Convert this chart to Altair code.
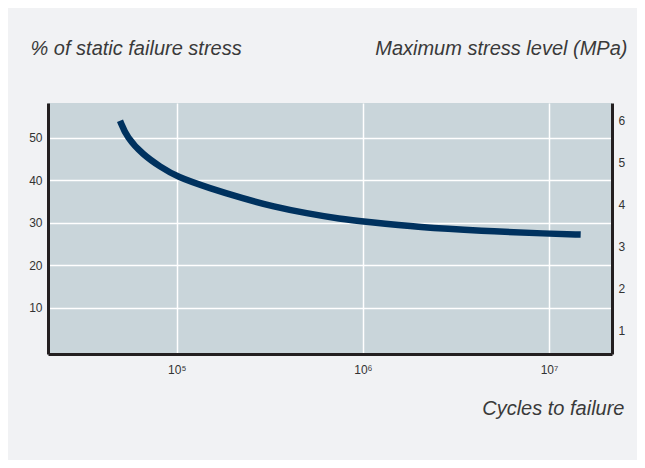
import altair as alt
import pandas as pd

# S-N curve
cycles = [49600, 53900, 66200, 81350, 100000, 151000, 228000, 330000, 499000,
          754000, 1049000, 2028000, 4256000, 10000000, 14800000]
stress_pct = [54.0, 50.1, 45.9, 43.2, 40.8, 38.1, 35.7, 33.8, 32.2,
              30.9, 30.2, 28.9, 28.1, 27.4, 27.2]

x_ticks = [100000, 1000000, 10000000]
left_ticks = [10, 20, 30, 40, 50]
right_ticks = [1, 2, 3, 4, 5, 6]

curve = pd.DataFrame({"cycles": cycles, "pct": stress_pct})
right_df = pd.DataFrame({"mpa": right_ticks})

FONT = "Liberation Sans"
TXT = "#333333"
TITLE_TXT = "#3a3a3a"
TSIZE = 20
LSIZE = 12

xscale = alt.Scale(type="log", domain=[20350, 21800000], nice=False)

x_axis = alt.Axis(
    values=x_ticks,
    labelExpr="datum.value == 100000 ? '10⁵' : datum.value == 1000000 ? '10⁶' : '10⁷'",
    title="Cycles to failure",
    titleAngle=0, titleAlign="right", titleBaseline="middle",
    titleX=576, titleY=54,
    titleFont=FONT, titleFontSize=TSIZE, titleFontStyle="italic", titleFontWeight="normal", titleColor=TITLE_TXT,
    labelFont=FONT, labelFontSize=LSIZE, labelColor=TXT, labelPadding=10,
    ticks=False, tickSize=0,
    grid=True, gridColor="white", gridWidth=1.5,
    domainColor="#231f20", domainWidth=3,
)

line = alt.Chart(curve).mark_line(
    color="#00325f", strokeWidth=6.5, interpolate="basis", strokeCap="butt"
).encode(
    x=alt.X("cycles:Q", scale=xscale, axis=x_axis),
    y=alt.Y(
        "pct:Q",
        scale=alt.Scale(domain=[-0.9, 58.16], nice=False, zero=False),
        axis=alt.Axis(
            values=left_ticks,
            title="% of static failure stress",
            titleAngle=0, titleAlign="left", titleBaseline="middle",
            titleX=-18, titleY=-55,
            titleFont=FONT, titleFontSize=TSIZE, titleFontStyle="italic", titleFontWeight="normal", titleColor=TITLE_TXT,
            labelFont=FONT, labelFontSize=LSIZE, labelColor=TXT, labelPadding=6,
            ticks=False, tickSize=0,
            grid=True, gridColor="white", gridWidth=1.5,
            domainColor="#231f20", domainWidth=3,
        ),
    ),
)

right = alt.Chart(right_df).mark_point(opacity=0).encode(
    x=alt.value(0),
    y=alt.Y(
        "mpa:Q",
        scale=alt.Scale(domain=[0.43, 6.42], nice=False, zero=False),
        axis=alt.Axis(
            orient="right",
            values=right_ticks,
            title="Maximum stress level (MPa)",
            titleAngle=0, titleAlign="right", titleBaseline="middle",
            titleX=15, titleY=-55,
            titleFont=FONT, titleFontSize=TSIZE, titleFontStyle="italic", titleFontWeight="normal", titleColor=TITLE_TXT,
            labelFont=FONT, labelFontSize=LSIZE, labelColor=TXT, labelPadding=6,
            ticks=False, tickSize=0, grid=False,
            domainColor="#231f20", domainWidth=3,
        ),
    ),
)

chart = alt.layer(right, line).resolve_scale(y="independent").properties(
    width=564,
    height=251,
    background="#f1f2f4",
    padding={"left": 40, "top": 95, "right": 25, "bottom": 106},
    autosize=alt.AutoSizeParams(type="none"),
).configure_view(fill="#c9d5da", stroke=None)

chart.save("out.html", embed_options={"renderer": "svg", "actions": False})
